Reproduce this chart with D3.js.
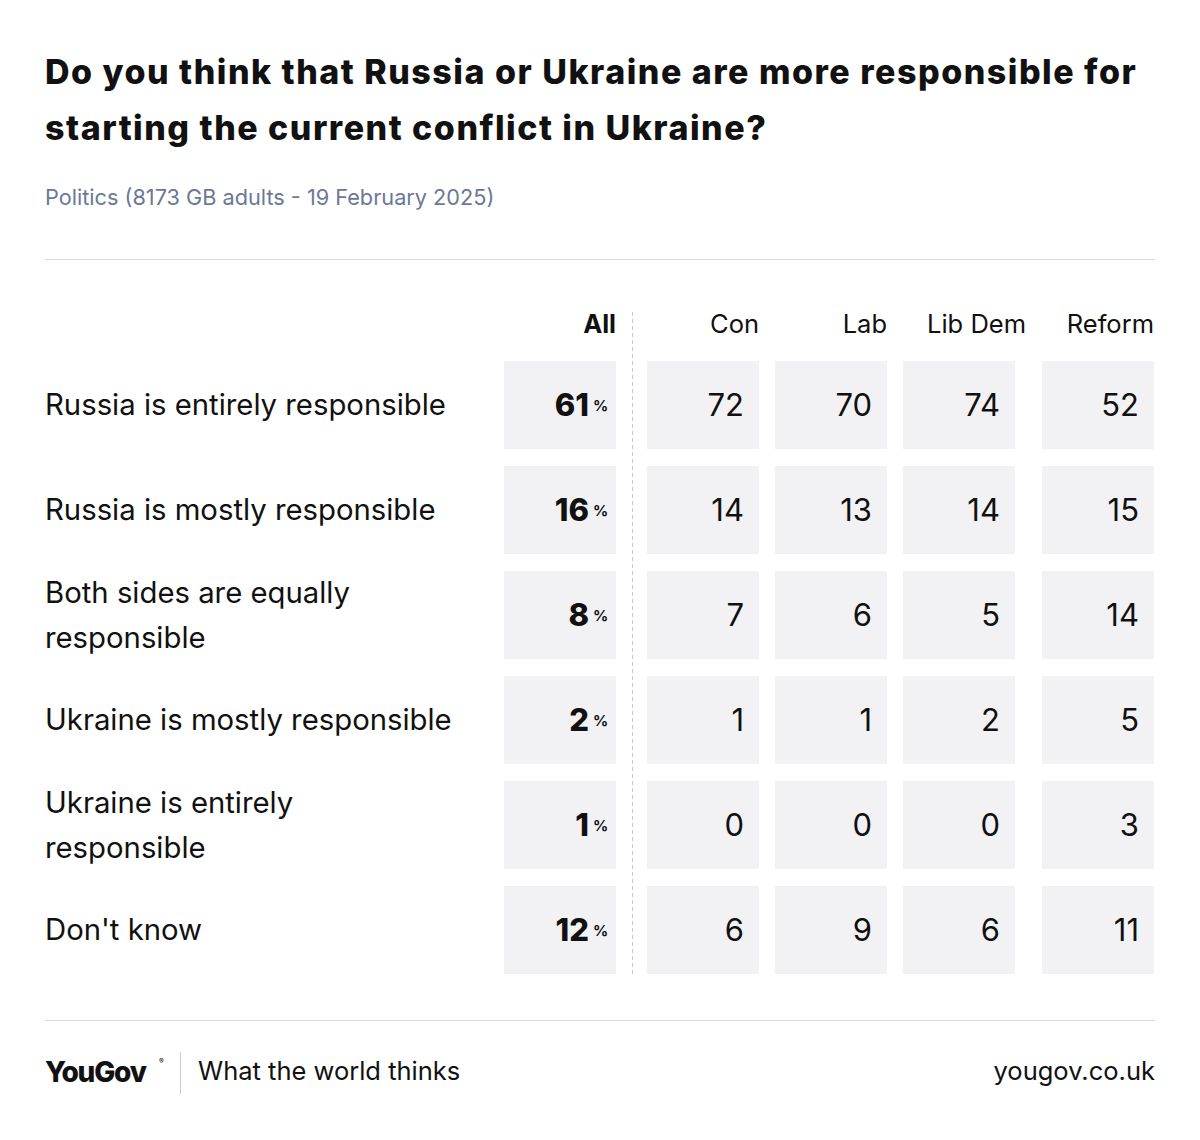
<!DOCTYPE html>
<html lang="en">
<head>
<meta charset="UTF-8">
<script src="https://d3js.org/d3.v7.min.js"></script>
<style>
body{margin:0;background:#fff;}
text{font-family:Inter,"Open Sans",sans-serif;}
</style>
</head>
<body>
<script>
var answers = ["Russia is entirely responsible", "Russia is mostly responsible", "Both sides are equally|responsible", "Ukraine is mostly responsible", "Ukraine is entirely|responsible", "Don't know"];
var allValues = [61, 16, 8, 2, 1, 12];
var parties = ["Con", "Lab", "Lib Dem", "Reform"];
var partyValues = [
  [72, 70, 74, 52],
  [14, 13, 14, 15],
  [7, 6, 5, 14],
  [1, 1, 2, 5],
  [0, 0, 0, 3],
  [6, 9, 6, 11]
];

var svg = d3.select('body').append('svg').attr('width', 1200).attr('height', 1140);

function title(t, yy) {
  svg.append('text').attr('x', 45).attr('y', yy).attr('font-size', 34).attr('font-weight', 800)
    .attr('letter-spacing', 1.5).attr('fill', '#111').text(t);
}
title('Do you think that Russia or Ukraine are more responsible for', 84);
title('starting the current conflict in Ukraine?', 140);
svg.append('text').attr('x', 45).attr('y', 205).attr('font-size', 21.7).attr('fill', '#6b7896')
  .text('Politics (8173 GB adults - 19 February 2025)');
svg.append('line').attr('x1', 45).attr('x2', 1155).attr('y1', 259.5).attr('y2', 259.5).attr('stroke', '#d9d9d9');
svg.append('line').attr('x1', 45).attr('x2', 1155).attr('y1', 1020.5).attr('y2', 1020.5).attr('stroke', '#d9d9d9');

var y = d3.scaleBand().domain(d3.range(answers.length)).range([361, 974]).paddingInner(17 / 105).paddingOuter(0);
var cols = ["All"].concat(parties);
var colX = [504, 647, 775, 903, 1042];
var headEnd = [616, 759, 887, 1026, 1154];
var cw = 112;

// header
cols.forEach(function (c, i) {
  svg.append('text').attr('x', headEnd[i]).attr('y', 333).attr('text-anchor', 'end')
    .attr('font-size', 25.5).attr('font-weight', i === 0 ? 700 : 400).attr('fill', '#111').text(c);
});
svg.append('line').attr('x1', 632.5).attr('x2', 632.5).attr('y1', 312).attr('y2', 974)
  .attr('stroke', '#c8c8c8').attr('stroke-dasharray', '4,3');

var rows = svg.selectAll('g.row').data(answers).enter().append('g').attr('class', 'row')
  .attr('transform', function (d, i) { return 'translate(0,' + y(i) + ')'; });
var h = y.bandwidth();

rows.each(function (d, i) {
  var g = d3.select(this);
  var lines = d.split('|');
  lines.forEach(function (l, j) {
    g.append('text').attr('x', 45).attr('y', h / 2 + 10 + (j - (lines.length - 1) / 2) * 45)
      .attr('font-size', 29.3).attr('fill', '#111').text(l);
  });
  g.append('rect').attr('x', colX[0]).attr('width', cw).attr('height', h).attr('fill', '#f2f2f4');
  g.append('text').attr('x', colX[0] + 85).attr('y', h / 2 + 11).attr('text-anchor', 'end')
    .attr('font-size', 31).attr('font-weight', 800).attr('fill', '#111').text(allValues[i]);
  g.append('text').attr('x', colX[0] + 89).attr('y', h / 2 + 6).attr('font-size', 15)
    .attr('font-weight', 700).attr('fill', '#111').text('%');
  partyValues[i].forEach(function (v, k) {
    g.append('rect').attr('x', colX[k + 1]).attr('width', cw).attr('height', h).attr('fill', '#f2f2f4');
    g.append('text').attr('x', colX[k + 1] + cw - 15).attr('y', h / 2 + 11).attr('text-anchor', 'end')
      .attr('font-size', 31).attr('fill', '#111').text(v);
  });
});

// footer
svg.append('text').attr('x', 45).attr('y', 1082).attr('font-size', 28).attr('font-weight', 800)
  .attr('letter-spacing', -1.2).attr('fill', '#111').text('YouGov');
svg.append('text').attr('x', 159).attr('y', 1064).attr('font-size', 7).attr('fill', '#111').text('®');
svg.append('line').attr('x1', 180.5).attr('x2', 180.5).attr('y1', 1052).attr('y2', 1094).attr('stroke', '#ccc');
svg.append('text').attr('x', 198).attr('y', 1080).attr('font-size', 25.5).attr('fill', '#111').text('What the world thinks');
svg.append('text').attr('x', 1155).attr('y', 1080).attr('text-anchor', 'end').attr('font-size', 25.5).attr('fill', '#111').text('yougov.co.uk');
</script>
</body>
</html>
